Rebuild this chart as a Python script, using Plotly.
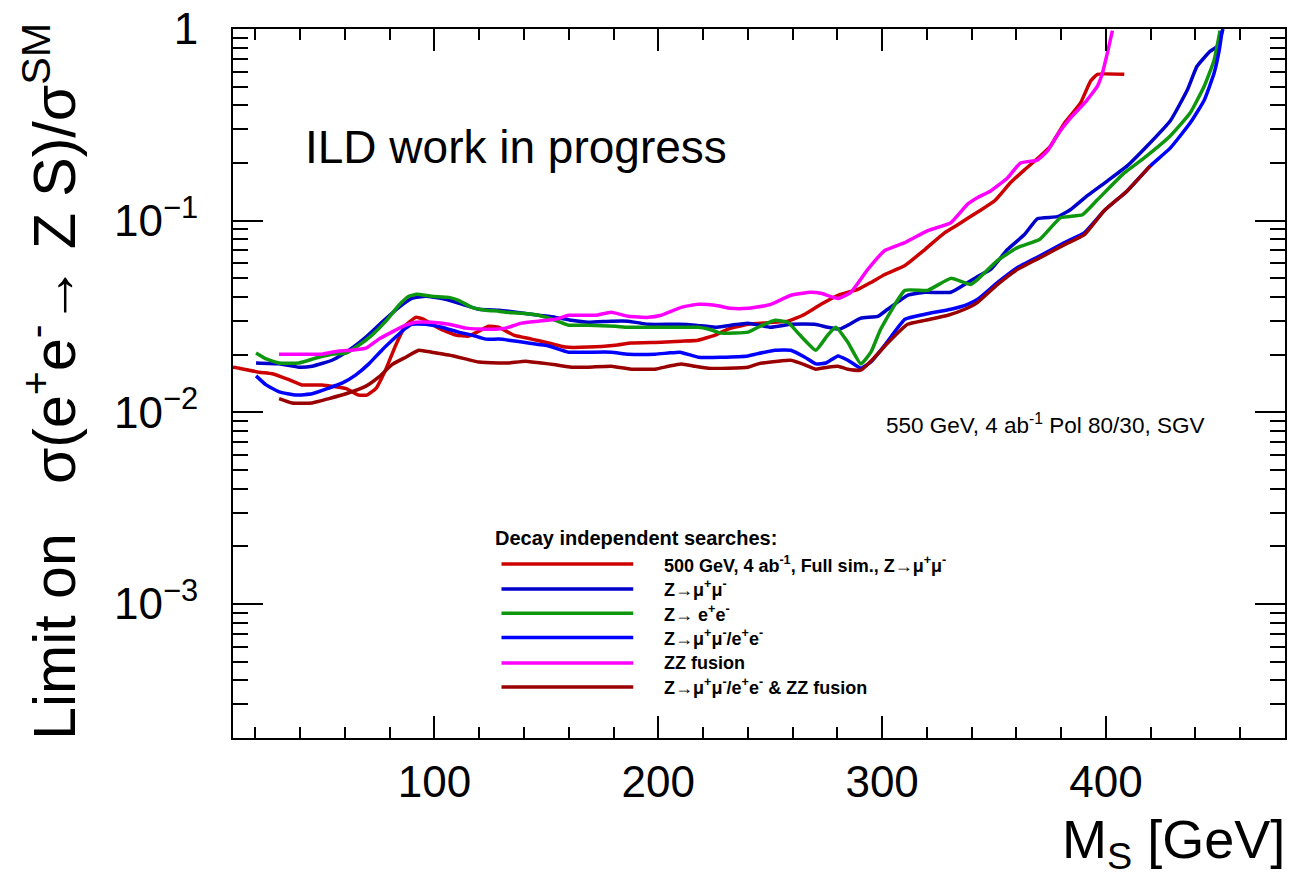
import plotly.graph_objects as go

# ---------------- data ----------------
red_x = [10, 12.8, 21.7, 27.5, 35.0, 40.8, 49.7, 60.5, 66.2, 69.8, 73.8, 78.3, 82.7, 87.2, 91.7, 95.2,
         101.9, 109.5, 115.3, 119.8, 124.2, 128.7, 135.4, 143.4, 151.0, 158.5, 168.8, 180.8, 187.9,
         201.3, 210.2, 217.8, 225.4, 231.2, 240.1, 257.9, 265.5, 272.7, 280.3, 289.2, 295.0, 301.2,
         310.2, 319.1, 328.0, 333.8, 342.7, 350.3, 357.4, 363.6, 370.8, 375.2, 381.5, 388.6, 393.1,
         396.2, 408.2]
red_y = [0.0172, 0.0170, 0.0162, 0.0159, 0.0148, 0.0139, 0.0139, 0.0133, 0.0123, 0.0123, 0.0133, 0.0168,
         0.0224, 0.0285, 0.0313, 0.0306, 0.0275, 0.0253, 0.0250, 0.0265, 0.0281, 0.0278, 0.0253, 0.0241,
         0.0230, 0.0219, 0.0219, 0.0224, 0.0230, 0.0232, 0.0235, 0.0238, 0.0253, 0.0272, 0.0288, 0.0299,
         0.0325, 0.0366, 0.0408, 0.0438, 0.0476, 0.0524, 0.0584, 0.0707, 0.0866, 0.0953, 0.111, 0.127,
         0.158, 0.184, 0.218, 0.245, 0.323, 0.410, 0.534, 0.580, 0.580]

mumu_x = [20.3, 30.6, 39.5, 45.3, 54.2, 61.8, 69.4, 76.5, 84.1, 89.9, 96.1, 105.0, 113.9, 119.8, 128.7,
          133.1, 146.5, 154.1, 161.2, 168.8, 179.0, 186.6, 195.5, 209.0, 216.5, 225.4, 232.5, 240.1,
          250.3, 259.2, 269.9, 275.7, 281.1, 284.7, 290.5, 298.1, 302.5, 311.4, 319.1, 330.7, 336.9,
          342.7, 348.5, 356.0, 363.6, 369.4, 378.3, 384.1, 391.7, 400.6, 409.5, 418.4, 428.7, 436.3,
          440.7, 446.5, 449.7, 452.3]
mumu_y = [0.0181, 0.0179, 0.0172, 0.0174, 0.0187, 0.0211, 0.0247, 0.0295, 0.0353, 0.0393, 0.0403,
          0.0389, 0.0362, 0.0345, 0.0341, 0.0337, 0.0321, 0.0313, 0.0302, 0.0295, 0.0299, 0.0299,
          0.0288, 0.0288, 0.0285, 0.0278, 0.0285, 0.0292, 0.0278, 0.0288, 0.0288, 0.0278, 0.0272,
          0.0285, 0.0310, 0.0317, 0.0345, 0.0408, 0.0423, 0.0423, 0.0465, 0.0512, 0.0557, 0.0707,
          0.0846, 0.1024, 0.1049, 0.114, 0.135, 0.161, 0.193, 0.245, 0.331, 0.479, 0.639, 0.764,
          0.811, 1.0]

ee_x = [20.3, 24.8, 30.6, 39.5, 47.1, 54.2, 60.5, 66.2, 72.1, 78.3, 84.1, 88.5, 92.1, 98.8, 106.4,
        110.8, 116.7, 122.9, 128.7, 131.8, 138.9, 146.5, 154.1, 159.9, 168.8, 180.8, 186.6, 198.6,
        207.6, 217.8, 222.3, 228.1, 240.1, 244.6, 252.2, 257.9, 263.3, 270.4, 275.7, 279.3, 284.7,
        290.5, 295.0, 299.4, 310.2, 320.4, 330.7, 339.6, 342.7, 351.6, 360.5, 370.3, 379.7, 389.5,
        396.2, 408.2, 417.1, 428.7, 437.6, 443.9, 448.3, 451.0]
ee_y = [0.0204, 0.0190, 0.0181, 0.0181, 0.0192, 0.0201, 0.0204, 0.0224, 0.0253, 0.0299, 0.0362,
        0.0403, 0.0413, 0.0403, 0.0398, 0.0384, 0.0353, 0.0341, 0.0337, 0.0333, 0.0329, 0.0321,
        0.0302, 0.0285, 0.0285, 0.0281, 0.0278, 0.0278, 0.0278, 0.0278, 0.0272, 0.0259, 0.0262,
        0.0278, 0.0302, 0.0295, 0.0253, 0.0211, 0.0253, 0.0278, 0.0232, 0.0179, 0.0206, 0.0272,
        0.0433, 0.0433, 0.0500, 0.0465, 0.0494, 0.0620, 0.0724, 0.0797, 0.1036, 0.1074, 0.1285,
        0.1775, 0.2125, 0.2764, 0.3641, 0.503, 0.686, 0.98]

comb_x = [20.3, 24.8, 30.6, 38.2, 45.3, 52.9, 58.7, 64.9, 70.7, 76.5, 82.7, 87.2, 89.9, 96.1, 103.2,
          110.8, 116.7, 122.9, 128.7, 133.1, 142.0, 151.0, 159.9, 168.8, 179.0, 186.6, 198.6, 204.5,
          209.8, 217.8, 228.1, 240.1, 243.3, 252.2, 259.2, 265.5, 270.4, 274.9, 280.3, 284.7, 290.5,
          295.0, 301.2, 310.2, 319.1, 330.7, 338.2, 342.7, 351.6, 360.5, 370.8, 381.5, 390.4, 399.3,
          409.5, 419.8, 428.7, 437.6, 443.9, 448.3, 450.6, 451.9]
comb_y = [0.0155, 0.0139, 0.0128, 0.0123, 0.0125, 0.0134, 0.0142, 0.0157, 0.0179, 0.0211, 0.0247,
          0.0275, 0.0288, 0.0288, 0.0278, 0.0262, 0.0253, 0.0241, 0.0241, 0.0238, 0.0230, 0.0222,
          0.0206, 0.0206, 0.0206, 0.0201, 0.0201, 0.0204, 0.0206, 0.0194, 0.0194, 0.0197, 0.0201,
          0.0211, 0.0211, 0.0194, 0.0179, 0.0181, 0.0197, 0.0187, 0.0170, 0.0183, 0.0224, 0.0306,
          0.0325, 0.0345, 0.0366, 0.0389, 0.0476, 0.0570, 0.0658, 0.0769, 0.0866, 0.113, 0.143,
          0.193, 0.239, 0.323, 0.425, 0.587, 0.773, 0.98]

zz_x = [30.6, 39.5, 49.7, 57.3, 63.1, 69.4, 75.2, 80.9, 87.2, 91.7, 98.8, 106.4, 113.9, 119.8, 128.7,
        131.8, 138.9, 146.5, 154.1, 159.9, 171.9, 179.0, 186.6, 195.5, 201.3, 210.2, 217.8, 225.4,
        232.5, 240.1, 243.3, 250.3, 259.2, 268.1, 272.7, 280.3, 286.0, 293.6, 301.2, 310.2, 320.4,
        330.7, 338.2, 342.7, 348.5, 356.0, 361.8, 369.4, 373.9, 378.3, 384.1, 390.4, 396.2, 398.4,
        400.6, 402.9]
zz_y = [0.0201, 0.0201, 0.0201, 0.0209, 0.0211, 0.0216, 0.0241, 0.0262, 0.0285, 0.0295, 0.0295,
        0.0288, 0.0275, 0.0272, 0.0272, 0.0275, 0.0292, 0.0299, 0.0306, 0.0321, 0.0321, 0.0333,
        0.0317, 0.0313, 0.0321, 0.0353, 0.0366, 0.0362, 0.0349, 0.0349, 0.0353, 0.0366, 0.0408,
        0.0423, 0.0418, 0.0393, 0.0423, 0.0557, 0.0699, 0.0769, 0.0887, 0.0976, 0.122, 0.132,
        0.143, 0.167, 0.200, 0.207, 0.231, 0.280, 0.343, 0.410, 0.503, 0.587, 0.746, 0.98]

combzz_x = [30.6, 36.4, 45.3, 52.9, 60.5, 69.4, 75.2, 80.9, 87.2, 93.0, 98.8, 106.4, 113.9, 119.8,
            128.7, 133.1, 140.7, 147.8, 154.1, 161.2, 168.8, 179.0, 187.9, 198.6, 204.5, 210.2,
            216.5, 222.3, 231.2, 240.1, 244.6, 253.5, 259.2, 265.5, 270.4, 275.7, 280.3, 284.7,
            290.5, 296.7, 302.5, 311.4, 319.1, 329.4, 336.9, 342.7, 351.6, 360.5, 370.8, 381.5,
            390.4, 399.3, 409.5, 419.8]
combzz_y = [0.0118, 0.0112, 0.0112, 0.0118, 0.0125, 0.0137, 0.0153, 0.0177, 0.0194, 0.0211, 0.0206,
            0.0199, 0.0190, 0.0183, 0.0181, 0.0181, 0.0185, 0.0181, 0.0177, 0.0172, 0.0172, 0.0174,
            0.0168, 0.0168, 0.0174, 0.0179, 0.0174, 0.0170, 0.0170, 0.0172, 0.0179, 0.0185, 0.0187,
            0.0177, 0.0168, 0.0172, 0.0174, 0.0168, 0.0166, 0.0194, 0.0230, 0.0288, 0.0302, 0.0321,
            0.0345, 0.0375, 0.0465, 0.0557, 0.0643, 0.0750, 0.0846, 0.113, 0.143, 0.193]

series_names = [
    "500 GeV, 4 ab<sup>-1</sup>, Full sim., Z→μ<sup>+</sup>μ<sup>-</sup>",
    "Z→μ<sup>+</sup>μ<sup>-</sup>",
    "Z→ e<sup>+</sup>e<sup>-</sup>",
    "Z→μ<sup>+</sup>μ<sup>-</sup>/e<sup>+</sup>e<sup>-</sup>",
    "ZZ fusion",
    "Z→μ<sup>+</sup>μ<sup>-</sup>/e<sup>+</sup>e<sup>-</sup> &amp; ZZ fusion",
]
series_colors = ["#cc0000", "#0000cc", "#0f960f", "#0000ff", "#ff00ff", "#990000"]
series_data = [(red_x, red_y), (mumu_x, mumu_y), (ee_x, ee_y),
               (comb_x, comb_y), (zz_x, zz_y), (combzz_x, combzz_y)]

x_tick_vals = [100, 200, 300, 400]
y_tick_vals = [1e-3, 1e-2, 1e-1, 1]
y_tick_text = ["10<sup>−3</sup>", "10<sup>−2</sup>", "10<sup>−1</sup>", "1"]
y_minor_vals = [m * 10.0 ** e for e in range(-4, 0) for m in range(2, 10) if m * 10.0 ** e >= 2e-4]

# ---------------- figure ----------------
W, H = 1291, 879
ML, MR, MT, MB = 233, 4, 26, 141
PW, PH = W - ML - MR, H - MT - MB


def px(xp):
    return (xp - ML) / PW


def py(yp):
    return 1 - (yp - MT) / PH


fig = go.Figure()
for (xs, ys), name, col in zip(series_data, series_names, series_colors):
    fig.add_trace(go.Scatter(x=xs, y=ys, mode="lines", name=name,
                             line=dict(color=col, width=3.5, shape="spline", smoothing=0.4),
                             showlegend=False, hoverinfo="skip"))

SANS = "Liberation Sans, Arial, Helvetica, sans-serif"

fig.update_layout(
    width=W, height=H,
    margin=dict(l=ML, r=MR, t=MT, b=MB, pad=0),
    paper_bgcolor="white", plot_bgcolor="white",
    font=dict(family=SANS, color="black"),
    xaxis=dict(range=[10, 480], tickvals=x_tick_vals, ticks="inside", ticklen=22, tickwidth=1.5,
               tickcolor="black", showline=True, linecolor="black", linewidth=2, mirror="allticks",
               showgrid=False, zeroline=False, ticklabelstandoff=4,
               tickfont=dict(family=SANS, size=44, color="black"),
               minor=dict(dtick=20, tick0=0, ticks="inside", ticklen=11, tickwidth=1.5,
                          tickcolor="black", showgrid=False)),
    yaxis=dict(type="log", range=[-3.699, 0], tickvals=y_tick_vals, ticktext=y_tick_text,
               ticks="inside", ticklen=30, tickwidth=1.5, tickcolor="black", showline=True,
               linecolor="black", linewidth=2, mirror="allticks", showgrid=False, zeroline=False,
               ticklabelstandoff=24, tickfont=dict(family=SANS, size=44, color="black"),
               minor=dict(tickvals=y_minor_vals, ticks="inside", ticklen=15, tickwidth=1.5,
                          tickcolor="black", showgrid=False)),
)

ann = []
ann.append(dict(text="ILD work in progress", x=px(303), y=py(145), xref="paper", yref="paper",
                xanchor="left", yanchor="middle", showarrow=False,
                font=dict(family=SANS, size=46, color="black")))
ann.append(dict(text="550 GeV, 4 ab<sup>-1</sup> Pol 80/30, SGV", x=px(885), y=py(423),
                xref="paper", yref="paper", xanchor="left", yanchor="middle", showarrow=False,
                font=dict(family=SANS, size=22.5, color="black")))
ann.append(dict(text="<b>Decay independent searches:</b>", x=px(493), y=py(537),
                xref="paper", yref="paper", xanchor="left", yanchor="middle", showarrow=False,
                font=dict(family=SANS, size=20, color="black")))
ann.append(dict(text="Limit on   σ(e<sup>+</sup>e<sup>-</sup>→ Z S)/σ<sup>SM</sup>", x=px(50), y=py(380),
                xref="paper", yref="paper", xanchor="center", yanchor="middle", showarrow=False,
                textangle=-90, font=dict(family=SANS, size=59, color="black")))
ann.append(dict(text="M<sub>S</sub> [GeV]", x=px(1289), y=py(843), xref="paper", yref="paper",
                xanchor="right", yanchor="middle", showarrow=False,
                font=dict(family=SANS, size=54, color="black")))

legend_y = [563.3, 588.3, 612.7, 637, 662.7, 686.7]
shapes = []
for yy, name, col in zip(legend_y, series_names, series_colors):
    shapes.append(dict(type="line", xref="paper", yref="paper", x0=px(502), x1=px(634),
                       y0=py(yy), y1=py(yy), line=dict(color=col, width=3.5)))
    ann.append(dict(text="<b>" + name + "</b>", x=px(663), y=py(yy), xref="paper", yref="paper",
                    xanchor="left", yanchor="middle", showarrow=False,
                    font=dict(family=SANS, size=18, color="black")))

fig.update_layout(annotations=ann, shapes=shapes)
fig.write_html("out.html")
